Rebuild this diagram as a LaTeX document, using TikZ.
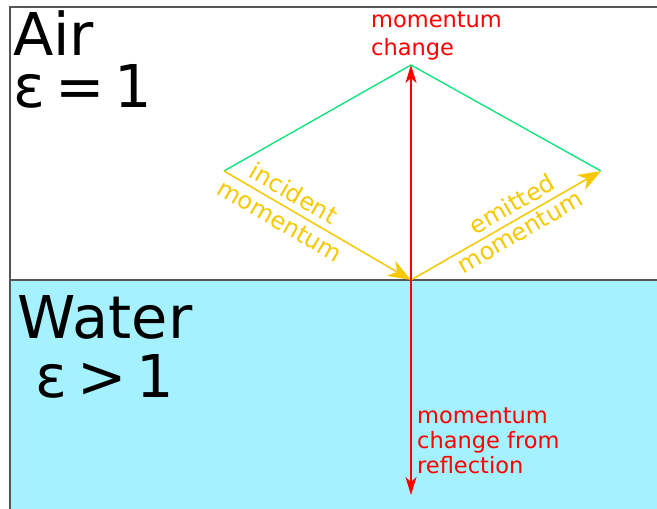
\documentclass[tikz,border=0pt]{standalone}
\usepackage{fontspec}
\setmainfont{DejaVu Sans}
\usepackage{xcolor}
\usepackage{tikz}
\usetikzlibrary{arrows.meta}
\definecolor{watercyan}{HTML}{A6F1FE}
\definecolor{edgegray}{HTML}{555555}
\definecolor{momred}{HTML}{FF0000}
\definecolor{momyellow}{HTML}{F5C800}
\definecolor{momgreen}{HTML}{00E676}
\newcommand{\gap}{\hspace{10pt}}
\tikzset{
  border/.style={draw=edgegray, line width=1.5pt},
  water/.style={fill=watercyan},
  mediumlabel/.style={font=\fontsize{59}{52}\selectfont, inner sep=0pt, align=left},
  redlabel/.style={text=momred, font=\fontsize{22.5}{25}\selectfont, align=left, inner sep=0pt, anchor=base west},
  yellowlabel/.style={text=momyellow, font=\fontsize{24}{26}\selectfont, inner sep=0pt},
  sumline/.style={draw=momgreen, line width=1.3pt},
  yellowarrow/.style={-{Stealth[length=23pt, width=17pt, inset=7pt]}, draw=momyellow, line width=1.5pt},
  redarrow/.style={-{Stealth[length=18pt, width=11pt, inset=5pt]}, draw=momred, line width=1.2pt}
}
\begin{document}
\begin{tikzpicture}[x=1pt, y=-1pt]
  \useasboundingbox (0,0) rectangle (657,509);
  \fill[water] (10,280) rectangle (657,509);
  \draw[border] (657,7) -- (10,7) -- (10,509);
  \draw[border] (10,280) -- (657,280);

  \coordinate (inc) at (224,171);
  \coordinate (top) at (411,65);
  \coordinate (emi) at (601,171);
  \coordinate (hit) at (411,280);
  \coordinate (bot) at (411,495);

  % base anchor sits on the last line
  \node[mediumlabel, anchor=base west] (air) at (13,107) {Air\\ε\gap=\gap1};
  \node[mediumlabel, anchor=base, align=center] (water) at (105,397) {Water\\[7pt]ε\gap>\gap1};

  \draw[sumline] (inc) -- (top) -- (emi);
  \draw[yellowarrow] (inc) -- (hit);
  \draw[yellowarrow] (hit) -- (emi);
  \draw[redarrow] (hit) -- (top);
  \draw[redarrow] (hit) -- (bot);

  \node[yellowlabel, rotate=-30] (incword) at (294,193) {incident};
  \node[yellowlabel, rotate=-30] (incmom) at (280,221) {momentum};
  \node[yellowlabel, rotate=30] (emiword) at (512,204) {emitted};
  \node[yellowlabel, rotate=30] (emimom) at (520,232) {momentum};

  \node[redlabel, font=\fontsize{22.5}{28}\selectfont] (change) at (371,55) {momentum\\change};
  \node[redlabel] (reflect) at (417,473) {momentum\\change from\\reflection};
\end{tikzpicture}
\end{document}
